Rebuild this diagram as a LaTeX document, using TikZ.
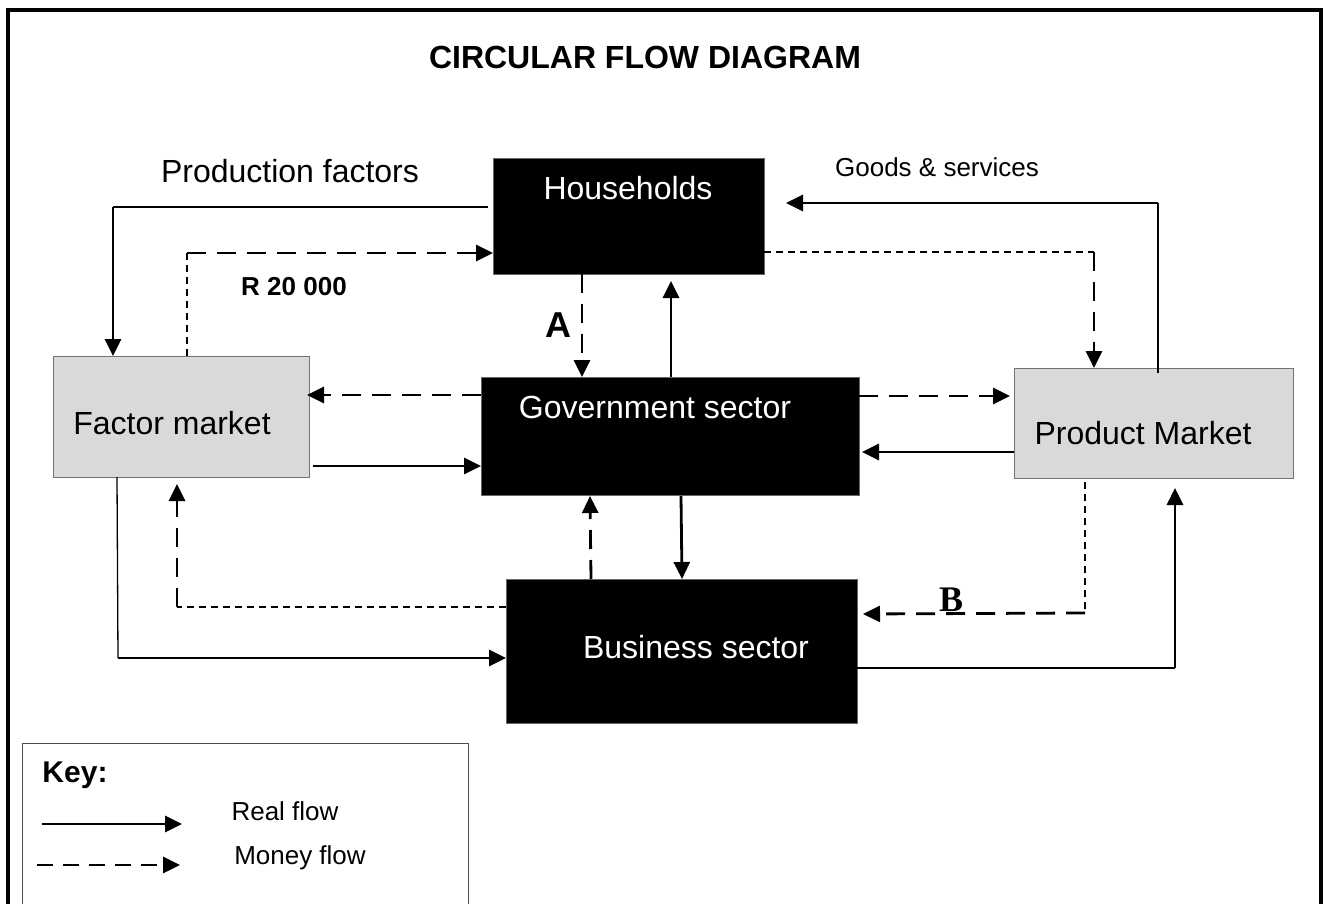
\documentclass[tikz,border=0pt]{standalone}
\usepackage{fontspec}
\setmainfont{Liberation Sans}
\newfontfamily\serifbold{Liberation Serif}
\usetikzlibrary{arrows.meta,calc}
\newcommand{\fs}[1]{\fontsize{#1}{#1}\selectfont}
\begin{document}
\begin{tikzpicture}[x=1pt,y=-1pt,
  darkbox/.style={fill=black,draw=black!60,line width=0.8pt,inner sep=0pt,outer sep=0pt,anchor=north west},
  marketbox/.style={fill=black!15,draw=black!55,line width=1pt,inner sep=0pt,outer sep=0pt,anchor=north west},
  boxtext/.style={inner sep=0pt,font=\fs{32}},
  tip/.style={-{Triangle[length=17pt,width=16pt]}},
  realflow/.style={line width=2.8pt,tip},
  realthin/.style={line width=1.3pt},
  moneyflow/.style={line width=2.8pt,dash pattern=on 19pt off 11pt,tip},
  moneythin/.style={line width=1.3pt,dash pattern=on 7pt off 5pt}]
\useasboundingbox (0,0) rectangle (1328,904);

% outer frame, open at the bottom edge
\draw[line width=4pt] (8.3,910) -- (8.3,10) -- (1321,10) -- (1321,910);

\node[font=\bfseries\fs{32}] (title) at (645,57) {CIRCULAR FLOW DIAGRAM};

% sectors and markets
\node[darkbox,minimum width=271pt,minimum height=116pt] (hh) at (493,158) {};
\node[darkbox,minimum width=378pt,minimum height=118pt] (gov) at (481,377) {};
\node[darkbox,minimum width=351pt,minimum height=144pt] (bus) at (506,579) {};
\node[marketbox,minimum width=256pt,minimum height=121pt] (fm) at (53,356) {};
\node[marketbox,minimum width=279pt,minimum height=110pt] (pm) at (1014,368) {};

\node[boxtext,text=white] (hht) at (628,188) {Households};
\node[boxtext,text=white] (govt) at (655,407) {Government sector};
\node[boxtext,text=white] (bust) at (696,647) {Business sector};
\node[boxtext] (fmt) at (172,423) {Factor market};
\node[boxtext] (pmt) at (1143,433) {Product Market};

% flow labels
\node[font=\fs{32}] (lpf) at (290,171) {Production factors};
\node[font=\fs{26}] (lgs) at (937,167) {Goods \& services};
\node[font=\bfseries\fs{26}] (lr) at (294,287) {R 20 000};
\node[font=\bfseries\fs{36}] (la) at (558,325) {A};
\node[font=\serifbold\bfseries\fs{36}] (lb) at (951,600) {B};

% bend points
\coordinate (c1) at (113,207);
\coordinate (c2) at (187,253);
\coordinate (c3) at (1158,203);
\coordinate (c4) at (1094,252);
\coordinate (c5) at (177,607);
\coordinate (c6) at (118,658);
\coordinate (c7) at (1085,613);
\coordinate (c8) at (1175,668);

% households <-> factor market
\draw[realthin] ($(hh.west |- c1)+(-5,0)$) -- (c1);
\draw[realflow] (c1) -- (c1 |- fm.north);
\draw[moneythin] (c2 |- fm.north) -- (c2);
\draw[moneyflow] (c2) -- (hh.west |- c2);

% households <-> product market
\draw[realthin] ($(c3 |- pm.north)+(0,5)$) -- (c3);
\draw[realflow] (c3) -- ($(hh.east |- c3)+(22,0)$);
\draw[moneythin] (hh.east |- c4) -- (c4);
\draw[moneyflow] (c4) -- (c4 |- pm.north);

% households <-> government
\draw[moneyflow] (582,274) -- (582,377);
\draw[realflow] (671,377) -- (671,281);

% government <-> factor market
\draw[moneyflow] (gov.west |- 0,395) -- (307,395);
\draw[realflow] (313,466) -- (gov.west |- 0,466);

% government <-> product market
\draw[moneyflow] (gov.east |- 0,396) -- (1010,396);
\draw[realflow] (pm.west |- 0,452) -- (862,452);

% government <-> business
\draw[moneyflow] (591,579) -- (590,496);
\draw[realflow] (681,496) -- (682,579);

% business <-> factor market
\draw[moneythin] (bus.west |- c5) -- (c5);
\draw[moneyflow] (c5) -- (177,484);
\draw[realthin] (117,477) -- (c6);
\draw[realflow] (c6) -- (bus.west |- c6);

% business <-> product market
\draw[moneythin] (1085,482) -- (c7);
\draw[moneyflow] (c7) -- (863,614);
\draw[realthin] (bus.east |- c8) -- (c8);
\draw[realflow] (c8) -- (1175,488);

% key
\draw[line width=1pt,black!70] (22,911) -- (22,743) -- (468,743) -- (468,911);
\node[font=\bfseries\fs{30}] (key) at (75,775) {Key:};
\coordinate (k1) at (42,824);
\coordinate (k2) at (182,824);
\coordinate (k3) at (37,865);
\coordinate (k4) at (180,865);
\draw[realflow] (k1) -- (k2);
\draw[moneyflow,dash pattern=on 16pt off 10pt] (k3) -- (k4);
\node[font=\fs{26}] (kreal) at (285,811) {Real flow};
\node[font=\fs{26}] (kmoney) at (300,858) {Money flow};
\end{tikzpicture}
\end{document}
